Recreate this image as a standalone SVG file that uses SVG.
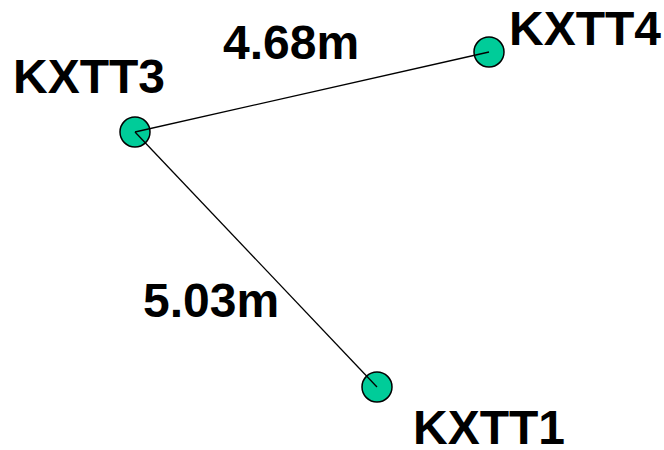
<svg xmlns="http://www.w3.org/2000/svg" width="664" height="450" viewBox="0 0 664 450">
<style>
.lbl{font-family:"Liberation Sans",Arial,sans-serif;font-weight:bold;font-size:48px;fill:#000}
.node{fill:#00CC99;stroke:#000;stroke-width:1.5}
.edge{stroke:#000;stroke-width:1.3;fill:none}
</style>
<rect width="664" height="450" fill="#fff"/>
<g id="KXTT3"><circle class="node" cx="135" cy="132" r="15"/><text class="lbl" x="13" y="93">KXTT3</text></g>
<g id="KXTT4"><circle class="node" cx="489" cy="52" r="15"/><text class="lbl" x="509" y="45">KXTT4</text></g>
<g id="KXTT1"><circle class="node" cx="377" cy="387" r="15"/><text class="lbl" x="413" y="444">KXTT1</text></g>
<g id="connectors">
<line class="edge" x1="135" y1="132" x2="489" y2="52"/>
<line class="edge" x1="135" y1="132" x2="377" y2="387"/>
<text class="lbl" x="223" y="59">4.68m</text>
<text class="lbl" x="143" y="317">5.03m</text>
</g>
</svg>
